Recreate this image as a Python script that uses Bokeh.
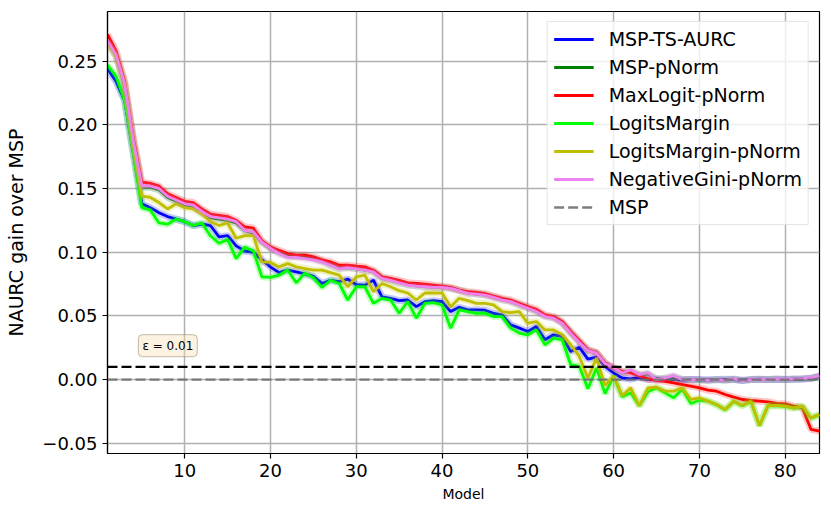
from bokeh.plotting import figure
from bokeh.models import Span, Label, Legend, LegendItem, FixedTicker, Range1d
from bokeh.embed import file_html
from bokeh.resources import INLINE

models = list(range(1, 85))

msp_ts_aurc = [
    0.244, 0.234, 0.219, 0.178, 0.138, 0.135, 0.131, 0.128, 0.126, 0.124,
    0.121, 0.122, 0.121, 0.112, 0.113, 0.105, 0.101, 0.100, 0.094, 0.0885,
    0.084, 0.086, 0.0846, 0.083, 0.081, 0.0755, 0.078, 0.077, 0.079, 0.0745,
    0.0742, 0.078, 0.065, 0.0638, 0.062, 0.0625, 0.0573, 0.0612, 0.062, 0.0612,
    0.0534, 0.0568, 0.0547, 0.0547, 0.0545, 0.0521, 0.0508, 0.043, 0.0404, 0.0378,
    0.0417, 0.0313, 0.0352, 0.0339, 0.0221, 0.0255, 0.0161, 0.0177, 0.0104, 0.0052,
    0.0013, 0.0005, 0.0018, 0.0, 0.0005, 0.0, 0.0003, -0.0003, 0.0, 0.0,
    -0.0003, 0.0, 0.0002, 0.0, -0.0005, 0.0, 0.0003, 0.0, 0.0002, 0.0,
    0.0003, 0.0005, 0.0008, 0.0026,
]

msp_pnorm = [
    0.265, 0.254, 0.231, 0.187, 0.151, 0.151, 0.149, 0.143, 0.140, 0.137,
    0.136, 0.131, 0.127, 0.126, 0.125, 0.123, 0.117, 0.115, 0.108, 0.103,
    0.0995, 0.097, 0.0965, 0.0965, 0.095, 0.093, 0.090, 0.0875, 0.088, 0.0872,
    0.086, 0.0848, 0.0796, 0.0782, 0.0762, 0.0745, 0.0736, 0.073, 0.0726, 0.0726,
    0.0718, 0.070, 0.068, 0.0674, 0.0666, 0.0648, 0.0628, 0.0614, 0.0588, 0.0562,
    0.0536, 0.0498, 0.0485, 0.0445, 0.0368, 0.0295, 0.0232, 0.021, 0.0128, 0.009,
    0.0055, 0.007, 0.0035, 0.0045, 0.0003, 0.001, 0.0025, 0.0, 0.0, -0.0003,
    -0.0005, 0.0, -0.0005, 0.0003, -0.0008, 0.0, 0.0, 0.0, 0.0003, 0.0,
    0.0003, 0.0005, 0.0010, 0.0028,
]

maxlogit_pnorm = [
    0.271, 0.258, 0.234, 0.190, 0.155, 0.154, 0.152, 0.146, 0.143, 0.140,
    0.139, 0.134, 0.130, 0.129, 0.128, 0.125, 0.120, 0.119, 0.109, 0.104,
    0.1016, 0.099, 0.0977, 0.0977, 0.0964, 0.094, 0.0924, 0.0898, 0.0898, 0.089,
    0.0885, 0.0859, 0.0807, 0.0794, 0.078, 0.076, 0.0755, 0.075, 0.0742, 0.0734,
    0.0724, 0.0703, 0.069, 0.0685, 0.0675, 0.0656, 0.0638, 0.0625, 0.0599, 0.0573,
    0.0552, 0.0508, 0.0495, 0.0456, 0.0378, 0.0307, 0.0234, 0.0214, 0.0130, 0.0091,
    0.0065, 0.0052, 0.0031, 0.0005, -0.0005, -0.0013, -0.0026, -0.0039, -0.0052, -0.0065,
    -0.0083, -0.0091, -0.0117, -0.0138, -0.0156, -0.0164, -0.0169, -0.0174, -0.0187, -0.019,
    -0.0208, -0.022, -0.039, -0.0404,
]

logits_margin = [
    0.247, 0.238, 0.219, 0.178, 0.135, 0.133, 0.123, 0.122, 0.126, 0.124,
    0.121, 0.123, 0.113, 0.107, 0.110, 0.095, 0.104, 0.101, 0.0807, 0.0802,
    0.082, 0.086, 0.076, 0.0836, 0.080, 0.0724, 0.078, 0.0755, 0.0625, 0.0729,
    0.0729, 0.0599, 0.0638, 0.0625, 0.0521, 0.0612, 0.0482, 0.0599, 0.0604, 0.0586,
    0.0404, 0.0547, 0.0534, 0.0521, 0.0521, 0.0495, 0.0495, 0.0404, 0.0365, 0.0352,
    0.039, 0.0273, 0.0326, 0.0313, 0.0117, 0.0104, -0.0072, 0.0091, -0.011, 0.0026,
    -0.0135, -0.0104, -0.0205, -0.0095, -0.0065, -0.0104, -0.0143, -0.0075, -0.0187, -0.0162,
    -0.0169, -0.0197, -0.0236, -0.0171, -0.0205, -0.0171, -0.0362, -0.0205, -0.0205, -0.021,
    -0.0223, -0.021, -0.0302, -0.0275,
]

logits_margin_pnorm = [
    0.264, 0.254, 0.232, 0.185, 0.144, 0.143, 0.139, 0.134, 0.138, 0.135,
    0.134, 0.130, 0.124, 0.121, 0.123, 0.111, 0.113, 0.113, 0.0924, 0.092,
    0.0885, 0.0911, 0.0885, 0.0872, 0.0859, 0.0859, 0.084, 0.082, 0.0729, 0.0807,
    0.082, 0.069, 0.0755, 0.0729, 0.0698, 0.068, 0.0625, 0.068, 0.068, 0.068,
    0.0573, 0.0638, 0.062, 0.0599, 0.0599, 0.0586, 0.0534, 0.0526, 0.0534, 0.0443,
    0.0456, 0.039, 0.039, 0.0352, 0.0274, 0.0182, 0.0013, 0.0169, -0.0045, 0.0026,
    -0.0125, -0.0065, -0.0205, -0.0065, -0.006, -0.009, -0.009, -0.0065, -0.0155, -0.0143,
    -0.0169, -0.0195, -0.0234, -0.0169, -0.0203, -0.0169, -0.036, -0.0203, -0.0203, -0.0208,
    -0.0221, -0.0208, -0.030, -0.0273,
]

negative_gini_pnorm = [
    0.266, 0.255, 0.232, 0.188, 0.152, 0.152, 0.150, 0.144, 0.141, 0.138,
    0.137, 0.132, 0.128, 0.127, 0.126, 0.124, 0.117, 0.116, 0.108, 0.103,
    0.099, 0.096, 0.096, 0.095, 0.094, 0.0924, 0.0898, 0.087, 0.088, 0.087,
    0.0859, 0.0846, 0.0794, 0.078, 0.076, 0.0742, 0.0734, 0.0729, 0.0724, 0.0724,
    0.0716, 0.0698, 0.0677, 0.0672, 0.0664, 0.0646, 0.0625, 0.0612, 0.0586, 0.056,
    0.0534, 0.0495, 0.0482, 0.0443, 0.0365, 0.0292, 0.0229, 0.0208, 0.0125, 0.0095,
    0.0052, 0.0078, 0.0039, 0.0052, 0.0, 0.0013, 0.0031, 0.0, 0.0, 0.0,
    -0.0005, 0.0, -0.0005, 0.0005, -0.0008, 0.0, 0.0003, 0.0, 0.0005, 0.0003,
    0.0005, 0.0008, 0.0013, 0.0031,
]

msp_baseline = [0.0] * len(models)
epsilon = 0.01
epsilon_text = "\u03b5 = 0.01"

series_names = ["MSP-TS-AURC", "MSP-pNorm", "MaxLogit-pNorm", "LogitsMargin",
                "LogitsMargin-pNorm", "NegativeGini-pNorm"]
series_values = [msp_ts_aurc, msp_pnorm, maxlogit_pnorm, logits_margin,
                 logits_margin_pnorm, negative_gini_pnorm]
series_colors = ["#0000ff", "#008000", "#ff0000", "#00ff00", "#bfbf00", "#ee82ee"]

x_ticks = [10, 20, 30, 40, 50, 60, 70, 80]
y_ticks = [-0.05, 0.0, 0.05, 0.10, 0.15, 0.20, 0.25]
y_tick_labels = ["\u22120.05", "0.00", "0.05", "0.10", "0.15", "0.20", "0.25"]

FONT = "DejaVu Sans"

p = figure(width=823, height=508, output_backend="svg", toolbar_location=None,
           x_range=Range1d(1, 84), y_range=Range1d(-0.058, 0.289),
           min_border_left=107, min_border_right=4, min_border_top=11, min_border_bottom=55)

p.outline_line_color = "black"
p.outline_line_width = 1.2
p.background_fill_color = "white"

for ax in (p.xaxis, p.yaxis):
    ax.major_label_text_font = FONT
    ax.major_label_text_font_size = "18px"
    ax.major_label_text_color = "black"
    ax.axis_line_color = "black"
    ax.axis_line_width = 1.2
    ax.major_tick_in = 0
    ax.major_tick_out = 5
    ax.major_tick_line_width = 1.2
    ax.minor_tick_line_color = None
    ax.axis_label_text_font = FONT
    ax.axis_label_text_font_style = "normal"
    ax.axis_label_text_color = "black"

p.xaxis.ticker = FixedTicker(ticks=x_ticks)
p.yaxis.ticker = FixedTicker(ticks=y_ticks)
p.yaxis.major_label_overrides = {t: l for t, l in zip(y_ticks, y_tick_labels)}
p.xaxis.axis_label = "Model"
p.xaxis.axis_label_text_font_size = "14px"
p.xaxis.axis_label_standoff = 6
p.yaxis.axis_label = "NAURC gain over MSP"
p.yaxis.axis_label_text_font_size = "19px"
p.yaxis.axis_label_standoff = 12

p.grid.grid_line_color = "#b0b0b0"
p.grid.grid_line_width = 1.5

items = []
for name, vals, col in zip(series_names, series_values, series_colors):
    p.line(models, vals, line_color=col, line_width=7, line_alpha=0.22)
    r = p.line(models, vals, line_color=col, line_width=2.8)
    items.append(LegendItem(label=name, renderers=[r]))

r_msp = p.line(models, msp_baseline, line_color="#707070", line_width=2.4,
               line_dash="10 4", line_alpha=0.9)
items.append(LegendItem(label="MSP", renderers=[r_msp]))

p.add_layout(Span(location=epsilon, dimension="width", line_color="black",
                  line_width=2.2, line_dash="10 4"))

p.add_layout(Label(x=4.6, y=0.018, text=epsilon_text, text_font=FONT,
                   text_font_size="12px", text_color="black",
                   background_fill_color="wheat", background_fill_alpha=0.4,
                   border_line_color="#a09070", border_line_alpha=0.6,
                   padding=4, border_radius=4))

legend = Legend(items=items, location="top_right")
legend.label_text_font = FONT
legend.label_text_font_size = "19px"
legend.label_text_color = "black"
legend.label_height = 20
legend.glyph_height = 20
legend.glyph_width = 40
legend.spacing = 6
legend.padding = 6
legend.margin = 10
legend.label_standoff = 15
legend.border_line_color = "#cccccc"
legend.border_line_width = 1.2
legend.background_fill_alpha = 0.8
p.add_layout(legend)

open("out.html", "w").write(file_html(p, INLINE))
